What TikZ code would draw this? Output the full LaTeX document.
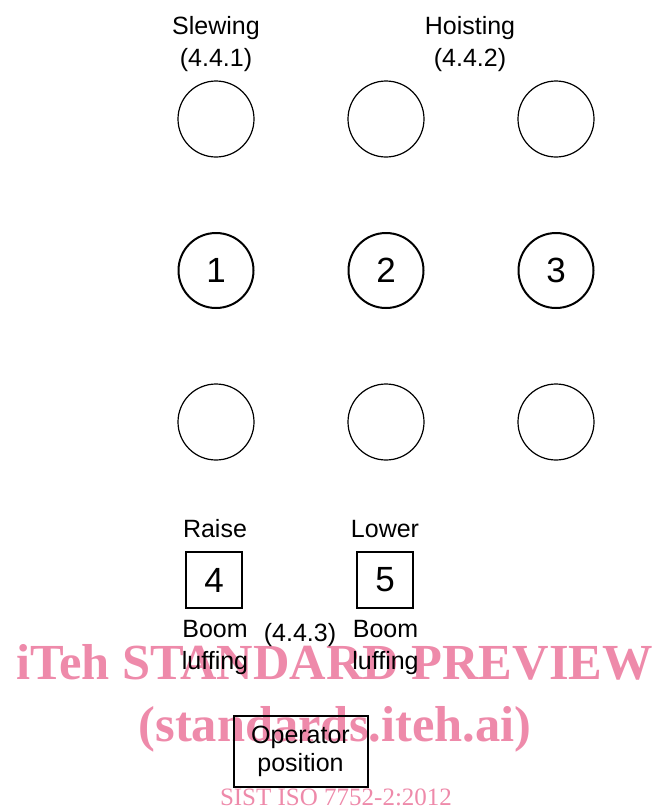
\documentclass[tikz,border=0pt]{standalone}
\usepackage{fontspec}
\setmainfont{Liberation Sans}
\newfontfamily\wmfont{Liberation Serif}
\usetikzlibrary{positioning}
\definecolor{wmpink}{RGB}{238,138,170}

\begin{document}
\begin{tikzpicture}[x=1pt,y=-1pt,
			lbl/.style={font=\fontsize{25}{32}\selectfont,align=center,inner sep=0pt},
			blank/.style={circle,draw,line width=1.2pt,minimum size=76pt,inner sep=0pt},
			ctrl/.style={circle,draw,line width=2pt,minimum size=75pt,inner sep=0pt,font=\fontsize{35}{35}\selectfont},
			key/.style={draw,line width=2pt,minimum size=56pt,inner sep=0pt,font=\fontsize{35}{35}\selectfont},
			wm/.style={text=wmpink,inner sep=0pt,anchor=base}
			]
			\useasboundingbox (0,0) rectangle (659,809);
			% watermark
			\node[wm,font=\wmfont\bfseries\fontsize{50.5}{50.5}\selectfont] (wma) at (334.5,679) {iTeh STANDARD PREVIEW};
			\node[wm,font=\wmfont\bfseries\fontsize{50.5}{50.5}\selectfont] (wmb) at (335,741) {(standards.iteh.ai)};
			\node[wm,font=\wmfont\fontsize{25}{25}\selectfont] (wmc) at (336,805.5) {SIST ISO 7752-2:2012};
			% controls
			\foreach \n/\x in {1/216,2/386,3/556} {
				\node[blank] (up\n) at (\x,119) {};
				\node[ctrl] (c\n) at (\x,270.5) {\n};
				\node[blank] (dn\n) at (\x,422) {};
			}
			\node[lbl] (slew) at (216,44.5) {Slewing\\(4.4.1)};
			\node[lbl] (hoist) at (470,44.5) {Hoisting\\(4.4.2)};
			% boom luffing
			\node[key] (k4) at (214,580) {4};
			\node[key] (k5) at (385,580) {5};
			\node[lbl] (raise) at (215,529) {Raise};
			\node[lbl] (lower) at (385,529) {Lower};
			\node[lbl] (bl4) at (215,647.5) {Boom\\luffing};
			\node[lbl] (bl5) at (385.5,647.5) {Boom\\luffing};
			\node[lbl] (luff) at (300,635.5) {(4.4.3)};
			% operator
			\node[draw,line width=2pt,minimum width=134pt,minimum height=71pt,inner sep=0pt,
				font=\fontsize{25}{28}\selectfont,align=center] (op) at (300.5,751) {Operator\\position};
		\end{tikzpicture}
\end{document}
